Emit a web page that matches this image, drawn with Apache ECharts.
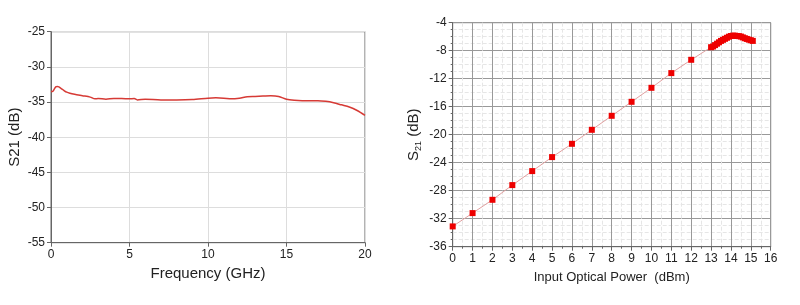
<!DOCTYPE html>
<html><head><meta charset="utf-8">
<script src="https://cdn.jsdelivr.net/npm/echarts@6/dist/echarts.min.js"></script>
<style>html,body{margin:0;padding:0;background:#fff}#c{width:800px;height:305px}</style>
</head><body><div id="c"></div>
<script>
// Left chart: S21 vs frequency
var freqGHz = [0,0.1,0.2,0.3,0.4,0.5,0.6,0.7,0.85,1,1.2,1.5,2,2.5,2.8,3,3.5,4,4.5,5,5.3,5.5,6,7,8,9,10,10.5,11,11.5,12,12.5,13,13.5,14,14.5,15,15.5,16,17,17.5,18,18.5,19,19.5,20];
var s21Freq  = [-33.5,-33.5,-33.2,-32.85,-32.8,-32.85,-33.0,-33.15,-33.4,-33.6,-33.75,-33.9,-34.1,-34.3,-34.55,-34.5,-34.6,-34.5,-34.5,-34.55,-34.5,-34.7,-34.6,-34.7,-34.7,-34.65,-34.45,-34.4,-34.45,-34.55,-34.45,-34.25,-34.2,-34.15,-34.1,-34.2,-34.6,-34.75,-34.8,-34.8,-34.9,-35.1,-35.4,-35.7,-36.2,-36.9];
var leftYTicks = {min:-55, max:-25, interval:5};
var leftXTicks = {min:0, max:20, interval:5};

// Right chart: S21 vs input optical power
var powerDBm = [0,1,2,3,4,5,6,7,8,9,10,11,12,13,13.1,13.2,13.3,13.4,13.5,13.6,13.7,13.8,13.9,14,14.1,14.2,14.3,14.4,14.5,14.6,14.7,14.8,14.9,15,15.1];
var s21Power = [-33.1,-31.2,-29.3,-27.2,-25.2,-23.2,-21.3,-19.3,-17.3,-15.3,-13.3,-11.2,-9.3,-7.5,-7.4,-7.2,-7.0,-6.8,-6.6,-6.45,-6.3,-6.15,-6.0,-5.9,-5.85,-5.85,-5.9,-5.92,-5.98,-6.1,-6.22,-6.32,-6.42,-6.5,-6.6];
var rightYTicks = {min:-36, max:-4, interval:4};
var rightXTicks = {min:0, max:16, interval:1};

function pairs(xs, ys){ return xs.map(function(x,i){return [x, ys[i]];}); }

var font = 'Liberation Sans, Arial, sans-serif';
var chart = echarts.init(document.getElementById('c'), null, {renderer:'canvas'});
chart.setOption({
  animation:false,
  backgroundColor:'#fff',
  grid:[
    {left:51, right:435, top:31.7, bottom:62.3, show:true, borderColor:'#666', borderWidth:1, backgroundColor:'#fff'},
    {left:452.7, right:29.3, top:22.7, bottom:58.3, show:true, borderColor:'#777', borderWidth:1, backgroundColor:'#fff'}
  ],
  xAxis:[
    {type:'value', gridIndex:0, min:leftXTicks.min, max:leftXTicks.max, interval:leftXTicks.interval,
     name:'Frequency (GHz)', nameLocation:'middle', nameGap:24,
     nameTextStyle:{fontFamily:font, fontSize:15, color:'#222'},
     axisLine:{show:true, lineStyle:{color:'#666', width:1}},
     axisTick:{show:true, inside:false, length:4, lineStyle:{color:'#666'}},
     axisLabel:{fontFamily:font, fontSize:12, color:'#222', margin:6},
     splitLine:{show:true, lineStyle:{color:'#ddd', width:1}}},
    {type:'value', gridIndex:1, min:rightXTicks.min, max:rightXTicks.max, interval:rightXTicks.interval,
     name:'Input Optical Power  (dBm)', nameLocation:'middle', nameGap:24,
     nameTextStyle:{fontFamily:font, fontSize:13, color:'#222'},
     axisLine:{show:true, lineStyle:{color:'#666', width:1}},
     axisTick:{show:true, inside:false, length:4, lineStyle:{color:'#666'}},
     minorTick:{show:true, splitNumber:2, length:2, lineStyle:{color:'#666'}},
     axisLabel:{fontFamily:font, fontSize:12, color:'#222', margin:6},
     splitLine:{show:true, lineStyle:{color:'#999', width:1}},
     minorSplitLine:{show:true, lineStyle:{color:'#e6e6e6', width:1, type:'dashed'}}}
  ],
  yAxis:[
    {type:'value', gridIndex:0, min:leftYTicks.min, max:leftYTicks.max, interval:leftYTicks.interval,
     name:'S21 (dB)', nameLocation:'middle', nameGap:29, nameRotate:90,
     nameTextStyle:{fontFamily:font, fontSize:15, color:'#222'},
     axisLine:{show:true, lineStyle:{color:'#666', width:1}},
     axisTick:{show:true, inside:false, length:4, lineStyle:{color:'#666'}},
     axisLabel:{fontFamily:font, fontSize:12, color:'#222', margin:6},
     splitLine:{show:true, lineStyle:{color:'#ddd', width:1}}},
    {type:'value', gridIndex:1, min:rightYTicks.min, max:rightYTicks.max, interval:rightYTicks.interval,
     name:'S{sub|21} (dB)', nameLocation:'middle', nameGap:30, nameRotate:90,
     nameTextStyle:{fontFamily:font, fontSize:15, color:'#222',
       rich:{sub:{fontFamily:font, fontSize:9, color:'#222', padding:[8,0,0,0]}}},
     axisLine:{show:true, lineStyle:{color:'#666', width:1}},
     axisTick:{show:true, inside:false, length:4, lineStyle:{color:'#666'}},
     minorTick:{show:true, splitNumber:4, length:2, lineStyle:{color:'#666'}},
     axisLabel:{fontFamily:font, fontSize:12, color:'#222', margin:6},
     splitLine:{show:true, lineStyle:{color:'#999', width:1}},
     minorSplitLine:{show:true, lineStyle:{color:'#e6e6e6', width:1, type:'dashed'}}}
  ],
  series:[
    {type:'line', xAxisIndex:0, yAxisIndex:0, data:pairs(freqGHz, s21Freq), smooth:0.3,
     showSymbol:false, lineStyle:{color:'#d63a35', width:1.5}},
    {type:'line', xAxisIndex:1, yAxisIndex:1, data:pairs(powerDBm, s21Power),
     symbol:'rect', symbolSize:6, itemStyle:{color:'#ee0000'},
     lineStyle:{color:'#e0a0a0', width:1}}
  ]
});
</script></body></html>
